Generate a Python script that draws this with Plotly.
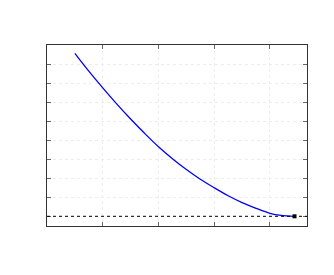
import plotly.graph_objects as go

# Curve values
curve_x = [0.50, 0.75, 1.00, 1.25, 1.50, 1.75, 2.00, 2.25, 2.50, 2.75, 3.00, 3.25, 3.50, 3.75, 4.00, 4.20, 4.44]
curve_y = [8.58, 7.64, 6.76, 5.92, 5.12, 4.37, 3.66, 3.03, 2.46, 1.95, 1.50, 1.08, 0.72, 0.42, 0.16, 0.05, 0.00]

# Optimum marker
opt_x = [4.44]
opt_y = [0.00]

x_ticks = [1, 2, 3, 4]
y_ticks = [0, 1, 2, 3, 4, 5, 6, 7, 8, 9]

fig = go.Figure()
fig.add_shape(type="line", xref="paper", x0=0, x1=1, yref="y", y0=opt_y[0], y1=opt_y[0],
              line=dict(color="black", width=1, dash="3px,3px"), layer="above")
fig.add_trace(go.Scatter(x=curve_x, y=curve_y, mode="lines",
                         line=dict(color="#0000ff", width=1.3, shape="spline"),
                         showlegend=False, hoverinfo="skip"))
fig.add_trace(go.Scatter(x=opt_x, y=opt_y, mode="markers",
                         marker=dict(color="black", size=4, symbol="square"),
                         showlegend=False, hoverinfo="skip"))

axis_common = dict(showticklabels=False, ticks="inside", ticklen=4, tickcolor="#666666",
                   tickwidth=1, showline=True, linecolor="#333333", linewidth=1,
                   mirror="ticks", showgrid=True, gridcolor="#ededed", griddash="dot",
                   gridwidth=1, zeroline=False)

fig.update_xaxes(range=[0, 4.664], tickvals=x_ticks, **axis_common)
fig.update_yaxes(range=[-0.51, 9.02], tickvals=y_ticks, **axis_common)

fig.update_layout(width=334, height=275, margin=dict(l=39, r=35, t=37, b=57),
                  paper_bgcolor="white", plot_bgcolor="white")

fig.write_html("out.html")
